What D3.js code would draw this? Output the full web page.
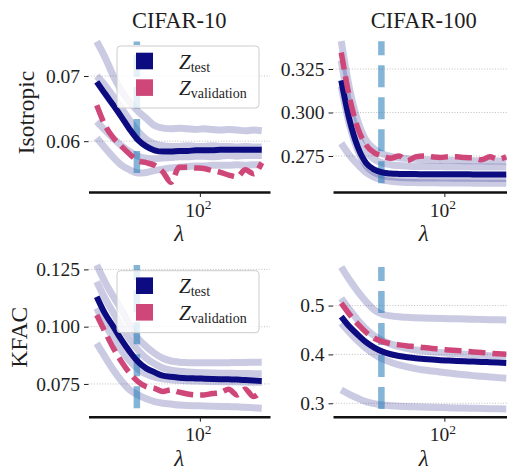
<!DOCTYPE html>
<html><head><meta charset="utf-8">
<script src="https://cdn.jsdelivr.net/npm/d3@7"></script>
<style>
html,body{margin:0;padding:0;background:#fff;}
svg{display:block;}
</style></head><body>
<svg id="chart" width="507" height="472"></svg>
<script>
// ---------------- DATA ----------------
const lambdas = [10, 12, 14.5, 17.4, 20.9, 25.1, 30.2, 36.3, 43.7, 52.5, 63.1, 75.9, 91.2, 109.6, 131.8, 158.5, 190.5, 229.1, 275.4, 331.1, 398.1];
const lambdaStar = 24.5;
const datasets = ["CIFAR-10", "CIFAR-100"];
const methods = ["Isotropic", "KFAC"];
const xTickValues = [100];
const legendLabels = [["Z", "test"], ["Z", "validation"]];

// Isotropic / CIFAR-10
const isoC10Test = [0.0691, 0.0673, 0.0655, 0.0637, 0.0618, 0.0602, 0.0592, 0.0586, 0.0584, 0.0584, 0.0585, 0.0585, 0.0586, 0.0586, 0.0586, 0.0587, 0.0587, 0.0587, 0.0587, 0.0587, 0.0587];
const isoC10Val = [0.0655, 0.0625, 0.0605, 0.0592, 0.0580, 0.0570, 0.0567, 0.0563, 0.0553, 0.0537, 0.0560, 0.0560, 0.0559, 0.0558, 0.0555, 0.0552, 0.0548, 0.0545, 0.0556, 0.0550, 0.0567];
const isoC10Seeds = [
  [0.0753, 0.0729, 0.0700, 0.0677, 0.0660, 0.0646, 0.0635, 0.0624, 0.0620, 0.0619, 0.0620, 0.0619, 0.0618, 0.0619, 0.0618, 0.0617, 0.0618, 0.0617, 0.0616, 0.0617, 0.0616],
  [0.0700, 0.0686, 0.0668, 0.0650, 0.0632, 0.0615, 0.0603, 0.0596, 0.0593, 0.0592, 0.0592, 0.0593, 0.0592, 0.0592, 0.0593, 0.0592, 0.0592, 0.0591, 0.0592, 0.0591, 0.0591],
  [0.0630, 0.0617, 0.0604, 0.0593, 0.0584, 0.0577, 0.0574, 0.0573, 0.0574, 0.0575, 0.0576, 0.0576, 0.0577, 0.0577, 0.0576, 0.0577, 0.0578, 0.0577, 0.0578, 0.0578, 0.0578],
  [0.0605, 0.0590, 0.0575, 0.0563, 0.0556, 0.0551, 0.0552, 0.0555, 0.0557, 0.0559, 0.0560, 0.0561, 0.0562, 0.0562, 0.0563, 0.0563, 0.0563, 0.0564, 0.0563, 0.0564, 0.0564]
];
const isoC10Ticks = [0.06, 0.07];

// Isotropic / CIFAR-100
const isoC100Test = [0.3185, 0.2960, 0.2800, 0.2710, 0.2672, 0.2655, 0.2649, 0.2647, 0.2646, 0.2646, 0.2645, 0.2645, 0.2645, 0.2645, 0.2645, 0.2645, 0.2644, 0.2644, 0.2644, 0.2644, 0.2644];
const isoC100Val = [0.3345, 0.3091, 0.2909, 0.2813, 0.2769, 0.2750, 0.2737, 0.2750, 0.2723, 0.2745, 0.2750, 0.2745, 0.2742, 0.2745, 0.2745, 0.2741, 0.2740, 0.2728, 0.2745, 0.2732, 0.2745];
const isoC100Seeds = [
  [0.3410, 0.3140, 0.2950, 0.2840, 0.2790, 0.2762, 0.2748, 0.2740, 0.2735, 0.2731, 0.2729, 0.2727, 0.2726, 0.2725, 0.2724, 0.2723, 0.2722, 0.2722, 0.2721, 0.2721, 0.2720],
  [0.3300, 0.3040, 0.2870, 0.2775, 0.2730, 0.2710, 0.2700, 0.2695, 0.2692, 0.2690, 0.2690, 0.2689, 0.2689, 0.2688, 0.2688, 0.2688, 0.2687, 0.2687, 0.2687, 0.2687, 0.2686],
  [0.3150, 0.2930, 0.2780, 0.2695, 0.2655, 0.2637, 0.2630, 0.2627, 0.2625, 0.2624, 0.2624, 0.2623, 0.2623, 0.2623, 0.2622, 0.2622, 0.2622, 0.2622, 0.2621, 0.2621, 0.2621],
  [0.2823, 0.2755, 0.2700, 0.2655, 0.2628, 0.2613, 0.2605, 0.2600, 0.2598, 0.2597, 0.2596, 0.2596, 0.2595, 0.2595, 0.2595, 0.2595, 0.2594, 0.2594, 0.2594, 0.2594, 0.2594]
];
const isoC100Ticks = [0.275, 0.300, 0.325];

// KFAC / CIFAR-10
const kfacC10Test = [0.1131, 0.1058, 0.1000, 0.0942, 0.0891, 0.0847, 0.0818, 0.0801, 0.0786, 0.0781, 0.0777, 0.0775, 0.0774, 0.0773, 0.0772, 0.0771, 0.0770, 0.0769, 0.0767, 0.0765, 0.0763];
const kfacC10Val = [0.1051, 0.0978, 0.0906, 0.0847, 0.0797, 0.0760, 0.0738, 0.0731, 0.0717, 0.0724, 0.0714, 0.0706, 0.0702, 0.0702, 0.0708, 0.0712, 0.0727, 0.0702, 0.0727, 0.0695, 0.0724];
const kfacC10Seeds = [
  [0.1269, 0.1196, 0.1131, 0.1073, 0.1007, 0.0949, 0.0913, 0.0884, 0.0862, 0.0850, 0.0845, 0.0843, 0.0842, 0.0842, 0.0843, 0.0842, 0.0843, 0.0844, 0.0844, 0.0845, 0.0845],
  [0.1196, 0.1125, 0.1060, 0.1000, 0.0945, 0.0898, 0.0862, 0.0838, 0.0820, 0.0810, 0.0805, 0.0802, 0.0800, 0.0799, 0.0798, 0.0797, 0.0797, 0.0796, 0.0796, 0.0795, 0.0795],
  [0.1080, 0.1010, 0.0950, 0.0895, 0.0850, 0.0815, 0.0793, 0.0780, 0.0772, 0.0768, 0.0766, 0.0764, 0.0763, 0.0762, 0.0761, 0.0760, 0.0760, 0.0759, 0.0758, 0.0757, 0.0757],
  [0.0927, 0.0869, 0.0811, 0.0763, 0.0724, 0.0702, 0.0685, 0.0673, 0.0666, 0.0662, 0.0658, 0.0656, 0.0655, 0.0654, 0.0653, 0.0652, 0.0651, 0.0650, 0.0648, 0.0646, 0.0644]
];
const kfacC10Ticks = [0.075, 0.100, 0.125];

// KFAC / CIFAR-100
const kfacC100Test = [0.4775, 0.4570, 0.4400, 0.4250, 0.4139, 0.4057, 0.4004, 0.3969, 0.3943, 0.3922, 0.3908, 0.3895, 0.3881, 0.3874, 0.3867, 0.3860, 0.3853, 0.3847, 0.3840, 0.3833, 0.3826];
const kfacC100Val = [0.5049, 0.4823, 0.4619, 0.4454, 0.4331, 0.4262, 0.4221, 0.4195, 0.4174, 0.4160, 0.4140, 0.4123, 0.4106, 0.4092, 0.4078, 0.4065, 0.4051, 0.4038, 0.4024, 0.4012, 0.4003];
const kfacC100Seeds = [
  [0.5790, 0.5527, 0.5287, 0.5082, 0.4912, 0.4823, 0.4789, 0.4770, 0.4760, 0.4750, 0.4745, 0.4740, 0.4736, 0.4732, 0.4728, 0.4724, 0.4720, 0.4716, 0.4712, 0.4709, 0.4707],
  [0.5150, 0.4920, 0.4700, 0.4520, 0.4380, 0.4280, 0.4210, 0.4160, 0.4120, 0.4090, 0.4070, 0.4052, 0.4038, 0.4025, 0.4013, 0.4002, 0.3992, 0.3983, 0.3975, 0.3967, 0.3960],
  [0.4639, 0.4454, 0.4277, 0.4127, 0.4004, 0.3908, 0.3840, 0.3785, 0.3744, 0.3709, 0.3682, 0.3661, 0.3641, 0.3620, 0.3600, 0.3583, 0.3566, 0.3552, 0.3539, 0.3525, 0.3512],
  [0.3273, 0.3184, 0.3102, 0.3033, 0.2992, 0.2965, 0.2951, 0.2940, 0.2933, 0.2927, 0.2922, 0.2917, 0.2913, 0.2909, 0.2905, 0.2901, 0.2897, 0.2893, 0.2889, 0.2886, 0.2883]
];
const kfacC100Ticks = [0.3, 0.4, 0.5];

// ---------------- STYLE / LAYOUT ----------------
const FONT = '"Liberation Serif", "DejaVu Serif", serif';
const TEXT = "#1e1e1e";
const COLORS = { test: "#0c0c80", val: "#cf4778", seed: "#0c0c80", star: "#1f77b4" };
const layout = { left: [88.5, 333], width: 181.5, top: [33, 257.7], height: 159, xDomain: [8.32, 478.6] };
const yLabelX = [33.5, 27];

const panels = [
  { row: 0, col: 0, test: isoC10Test, val: isoC10Val, seeds: isoC10Seeds, ticks: isoC10Ticks, fmt: ".2f", yDomain: [0.0522, 0.0766], legend: true },
  { row: 0, col: 1, test: isoC100Test, val: isoC100Val, seeds: isoC100Seeds, ticks: isoC100Ticks, fmt: ".3f", yDomain: [0.2543, 0.3457], legend: false },
  { row: 1, col: 0, test: kfacC10Test, val: kfacC10Val, seeds: kfacC10Seeds, ticks: kfacC10Ticks, fmt: ".3f", yDomain: [0.0607, 0.1301], legend: true },
  { row: 1, col: 1, test: kfacC100Test, val: kfacC100Val, seeds: kfacC100Seeds, ticks: kfacC100Ticks, fmt: ".1f", yDomain: [0.2725, 0.598], legend: false }
];

const svg = d3.select("#chart").attr("font-family", FONT);

panels.forEach(p => {
  const x0 = layout.left[p.col], y0 = layout.top[p.row];
  const W = layout.width, H = layout.height;
  const x = d3.scaleLog().domain(layout.xDomain).range([x0, x0 + W]);
  const y = d3.scaleLinear().domain(p.yDomain).range([y0 + H, y0]);
  const g = svg.append("g");

  // grid
  g.selectAll("line.grid").data(p.ticks).join("line").attr("class", "grid")
    .attr("x1", x0).attr("x2", x0 + W)
    .attr("y1", d => y(d)).attr("y2", d => y(d))
    .attr("stroke", "#b0b0b0").attr("stroke-width", 0.8).attr("stroke-dasharray", "1,1.7");

  // y axis
  const ya = g.append("g").attr("transform", `translate(${x0},0)`)
    .call(d3.axisLeft(y).tickValues(p.ticks).tickFormat(d3.format(p.fmt)).tickSize(4.5).tickPadding(4));
  ya.select(".domain").remove();
  ya.attr("font-family", FONT).attr("font-size", 19.5);
  ya.selectAll(".tick line").attr("stroke", TEXT).attr("stroke-width", 1);
  ya.selectAll(".tick text").attr("fill", TEXT);

  // x axis
  const xa = g.append("g").attr("transform", `translate(0,${y0 + H})`)
    .call(d3.axisBottom(x).tickValues(xTickValues).tickSize(5).tickSizeOuter(0).tickFormat(() => ""));
  xa.select(".domain").attr("stroke", "#111").attr("stroke-width", 2.6);
  xa.selectAll(".tick line").attr("stroke", TEXT).attr("stroke-width", 1);
  xa.attr("font-family", FONT);
  xa.selectAll(".tick text").each(function (d) {
    const t = d3.select(this);
    t.attr("dy", null).attr("y", 24.5).attr("x", -2).attr("fill", TEXT).attr("font-size", 19.5);
    t.append("tspan").text("10");
    t.append("tspan").attr("dy", -7.5).attr("font-size", 13.5).text(String(Math.round(Math.log10(d))));
  });

  const line = d3.line().x((d, i) => x(lambdas[i])).y(d => y(d)).curve(d3.curveMonotoneX);

  // seed lines
  p.seeds.forEach(s => {
    g.append("path").attr("d", line(s)).attr("fill", "none")
      .attr("stroke", COLORS.seed).attr("stroke-opacity", 0.22).attr("stroke-width", 7)
      .attr("stroke-linejoin", "round");
  });

  // chosen lambda (vertical dashed line spanning the seed range)
  const allSeed = p.seeds.flat();
  g.append("line")
    .attr("x1", x(lambdaStar)).attr("x2", x(lambdaStar))
    .attr("y1", y(d3.min(allSeed))).attr("y2", y(d3.max(allSeed)))
    .attr("stroke", COLORS.star).attr("stroke-opacity", 0.55).attr("stroke-width", 6.5)
    .attr("stroke-dasharray", "22,10");

  // test mean
  g.append("path").attr("d", line(p.test)).attr("fill", "none")
    .attr("stroke", COLORS.test).attr("stroke-width", 6).attr("stroke-linejoin", "round");
  // validation mean
  g.append("path").attr("d", line(p.val)).attr("fill", "none")
    .attr("stroke", COLORS.val).attr("stroke-width", 5.5).attr("stroke-dasharray", "17,7")
    .attr("stroke-linejoin", "round");

  // legend
  if (p.legend) {
    const lg = g.append("g");
    lg.append("rect").attr("x", x0 + 28.5).attr("y", y0 + 13).attr("width", 142).attr("height", 62)
      .attr("rx", 3.5).attr("fill", "#fff").attr("fill-opacity", 0.8)
      .attr("stroke", "#cccccc").attr("stroke-width", 1);
    legendLabels.forEach((lab, k) => {
      lg.append("rect").attr("x", x0 + 47.5).attr("y", y0 + 19.7 + k * 26.6)
        .attr("width", 17).attr("height", 16.6).attr("fill", k ? COLORS.val : COLORS.test);
      const t = lg.append("text").attr("x", x0 + 90.5).attr("y", y0 + 35.5 + k * 26.5)
        .attr("font-size", 21).attr("fill", TEXT);
      t.append("tspan").attr("font-style", "italic").text(lab[0]);
      t.append("tspan").attr("font-size", 14).attr("dy", 3).text(lab[1]);
    });
  }

  // title
  if (p.row === 0) {
    svg.append("text").attr("x", x0 + W / 2).attr("y", 28.3).attr("text-anchor", "middle")
      .attr("font-size", 22.5).attr("fill", TEXT).text(datasets[p.col]);
  }
  // row label
  if (p.col === 0) {
    svg.append("text").attr("transform", `translate(${yLabelX[p.row]},${y0 + H / 2}) rotate(-90)`)
      .attr("text-anchor", "middle").attr("font-size", 23.5).attr("fill", TEXT).text(methods[p.row]);
  }
  // x label
  svg.append("text").attr("x", x0 + W / 2).attr("y", y0 + H + 49).attr("text-anchor", "middle")
    .attr("font-style", "italic").attr("font-size", 23).attr("fill", TEXT).text("λ");
});
</script>
</body></html>
